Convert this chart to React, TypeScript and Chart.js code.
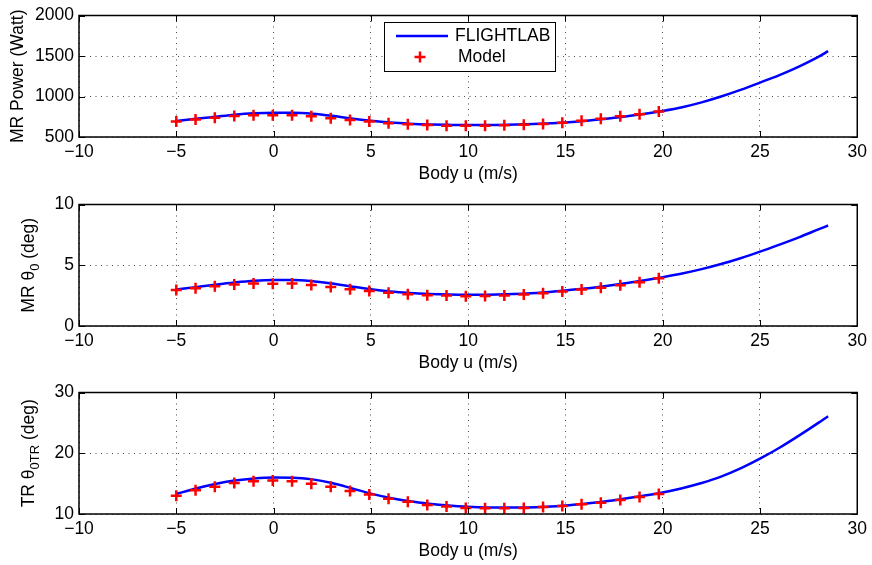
import React, { useEffect, useRef } from "react";
import { Chart, registerables } from "chart.js";

Chart.register(...registerables);

// ---------- data ----------
const flightU = [-5, -4, -3, -2, -1, 0, 1, 2, 3, 4, 5, 6, 7, 8, 9, 10, 11, 12, 13, 14, 15, 16, 17, 18, 19, 20, 21, 22, 23, 24, 25, 26, 27, 28, 28.5];
const powerFlight = [698, 725, 750, 775, 792, 800, 800, 788, 762, 728, 700, 678, 664, 655, 650, 647, 647, 650, 657, 667, 680, 698, 722, 750, 783, 822, 868, 928, 1000, 1082, 1172, 1265, 1370, 1490, 1560];
const theta0Flight = [3.0, 3.2, 3.4, 3.58, 3.72, 3.78, 3.78, 3.68, 3.5, 3.25, 3.02, 2.84, 2.72, 2.64, 2.59, 2.57, 2.58, 2.62, 2.68, 2.78, 2.92, 3.08, 3.28, 3.5, 3.75, 4.02, 4.32, 4.68, 5.1, 5.58, 6.12, 6.7, 7.3, 7.95, 8.27];
const theta0TRFlight = [13.3, 14.2, 14.95, 15.5, 15.85, 16.0, 15.98, 15.7, 15.1, 14.25, 13.35, 12.65, 12.1, 11.7, 11.4, 11.2, 11.08, 11.05, 11.08, 11.2, 11.4, 11.7, 12.05, 12.5, 13.0, 13.55, 14.25, 15.1, 16.15, 17.5, 19.1, 20.9, 22.9, 25.0, 26.1];

const modelU = [-5, -4.01, -3.02, -2.02, -1.03, -0.04, 0.95, 1.94, 2.94, 3.93, 4.92, 5.91, 6.9, 7.9, 8.89, 9.88, 10.87, 11.86, 12.86, 13.85, 14.84, 15.83, 16.82, 17.82, 18.81, 19.8];
const powerModel = [690, 715, 737, 759, 768, 768, 768, 755, 731, 711, 690, 670, 657, 647, 640, 640, 640, 645, 652, 662, 675, 700, 725, 755, 782, 816];
const theta0Model = [2.97, 3.11, 3.27, 3.41, 3.49, 3.47, 3.49, 3.38, 3.22, 3.03, 2.89, 2.73, 2.62, 2.54, 2.51, 2.45, 2.46, 2.51, 2.59, 2.7, 2.84, 3.0, 3.14, 3.35, 3.6, 3.92];
const theta0TRModel = [13.0, 13.9, 14.5, 15.1, 15.4, 15.5, 15.4, 15.0, 14.5, 13.8, 13.2, 12.5, 12.0, 11.5, 11.25, 11.0, 10.95, 10.95, 11.0, 11.15, 11.3, 11.6, 11.85, 12.3, 12.8, 13.3];

const xTicks = [-10, -5, 0, 5, 10, 15, 20, 25, 30];
const powerTicks = [500, 1000, 1500, 2000];
const theta0Ticks = [0, 5, 10];
const theta0TRTicks = [10, 20, 30];

const xTitle = "Body u (m/s)";
const legendLabels = ["FLIGHTLAB", "Model"];

// ---------- styling ----------
const FONT = "'Liberation Sans', Arial, Helvetica, sans-serif";
const FS = 17.5;
const W = 872;
const H = 189;

const fmt = (v: number) => (v < 0 ? "\u2212" + Math.abs(v) : String(v));

type Part = { t: string; sub?: boolean };

const framePlugin = {
  id: "frame",
  afterDraw(chart: any) {
    const { ctx, chartArea: a, scales } = chart;
    ctx.save();
    ctx.strokeStyle = "#000";
    ctx.lineWidth = 1;
    const tl = 6;
    ctx.beginPath();
    scales.x.ticks.forEach((t: any) => {
      const px = Math.round(scales.x.getPixelForValue(t.value)) + 0.5;
      ctx.moveTo(px, a.bottom);
      ctx.lineTo(px, a.bottom - tl);
      ctx.moveTo(px, a.top);
      ctx.lineTo(px, a.top + tl);
    });
    scales.y.ticks.forEach((t: any) => {
      const py = Math.round(scales.y.getPixelForValue(t.value)) + 0.5;
      ctx.moveTo(a.left, py);
      ctx.lineTo(a.left + tl, py);
      ctx.moveTo(a.right, py);
      ctx.lineTo(a.right - tl, py);
    });
    ctx.stroke();
    ctx.lineWidth = 1.5;
    ctx.strokeRect(a.left, a.top, a.right - a.left, a.bottom - a.top);
    ctx.restore();
  },
};

function yTitlePlugin(parts: Part[], x: number) {
  return {
    id: "ytitle",
    afterDraw(chart: any) {
      const { ctx, chartArea: a } = chart;
      const cy = (a.top + a.bottom) / 2;
      ctx.save();
      const mainFont = `${FS}px ${FONT}`;
      const subFont = `${Math.round(FS * 0.75)}px ${FONT}`;
      let total = 0;
      const widths = parts.map((p) => {
        ctx.font = p.sub ? subFont : mainFont;
        const w = ctx.measureText(p.t).width;
        total += w;
        return w;
      });
      ctx.translate(x, cy);
      ctx.rotate(-Math.PI / 2);
      ctx.fillStyle = "#000";
      ctx.textBaseline = "middle";
      ctx.textAlign = "left";
      let cx = -total / 2;
      parts.forEach((p, i) => {
        ctx.font = p.sub ? subFont : mainFont;
        ctx.fillText(p.t, cx, p.sub ? 6 : 0);
        cx += widths[i];
      });
      ctx.restore();
    },
  };
}

const legendPlugin = {
  id: "customLegend",
  afterDraw(chart: any) {
    const { ctx } = chart;
    ctx.save();
    ctx.fillStyle = "#fff";
    ctx.fillRect(384, 22, 171, 49);
    ctx.strokeStyle = "#000";
    ctx.lineWidth = 1;
    ctx.strokeRect(384.5, 22.5, 171, 49);
    ctx.strokeStyle = "#0000ff";
    ctx.lineWidth = 2.5;
    ctx.beginPath();
    ctx.moveTo(396, 36);
    ctx.lineTo(448, 36);
    ctx.stroke();
    ctx.strokeStyle = "#ff0000";
    ctx.lineWidth = 2.5;
    ctx.beginPath();
    ctx.moveTo(414.5, 57);
    ctx.lineTo(425.5, 57);
    ctx.moveTo(420, 51.5);
    ctx.lineTo(420, 62.5);
    ctx.stroke();
    ctx.fillStyle = "#000";
    ctx.font = `${FS}px ${FONT}`;
    ctx.textBaseline = "middle";
    ctx.textAlign = "left";
    ctx.fillText(legendLabels[0], 455, 36);
    ctx.fillText(legendLabels[1], 458, 57);
    ctx.restore();
  },
};

type PanelProps = {
  top: number;
  flight: number[];
  model: number[];
  yTicks: number[];
  titleParts: Part[];
  titleX: number;
  legend?: boolean;
};

function Panel({ top, flight, model, yTicks, titleParts, titleX, legend }: PanelProps) {
  const ref = useRef<HTMLCanvasElement>(null);
  useEffect(() => {
    const plugins: any[] = [framePlugin, yTitlePlugin(titleParts, titleX)];
    if (legend) plugins.push(legendPlugin);
    const chart = new Chart(ref.current!, {
      type: "line",
      data: {
        datasets: [
          {
            label: legendLabels[1],
            data: modelU.map((u, i) => ({ x: u, y: model[i] })),
            showLine: false,
            pointStyle: "cross",
            pointRadius: 5.5,
            pointBorderWidth: 2.5,
            borderColor: "#ff0000",
            backgroundColor: "#ff0000",
            pointHoverRadius: 5.5,
            order: 0,
          } as any,
          {
            label: legendLabels[0],
            data: flightU.map((u, i) => ({ x: u, y: flight[i] })),
            borderColor: "#0000ff",
            borderWidth: 2.5,
            pointRadius: 0,
            fill: false,
            cubicInterpolationMode: "monotone",
            order: 1,
          } as any,
        ],
      },
      options: {
        responsive: false,
        animation: false,
        devicePixelRatio: 1,
        events: [],
        layout: { padding: { top: 14, right: 12, left: 0, bottom: 0 } },
        plugins: { legend: { display: false }, tooltip: { enabled: false } },
        scales: {
          x: {
            type: "linear",
            min: xTicks[0],
            max: xTicks[xTicks.length - 1],
            afterBuildTicks: (s: any) => {
              s.ticks = xTicks.map((v) => ({ value: v }));
            },
            afterFit: (s: any) => {
              s.height = H - 14 - 123;
            },
            ticks: {
              color: "#000",
              font: { family: FONT, size: FS },
              padding: 5,
              maxRotation: 0,
              autoSkip: false,
              callback: (v: any) => fmt(Number(v)),
            },
            grid: { color: "rgba(0,0,0,0.7)", lineWidth: 1, drawTicks: false },
            border: { display: false, dash: [1, 4.5] },
            title: {
              display: true,
              text: xTitle,
              color: "#000",
              font: { family: FONT, size: FS },
              padding: { top: 0, bottom: 4 },
            },
          },
          y: {
            type: "linear",
            min: yTicks[0],
            max: yTicks[yTicks.length - 1],
            afterBuildTicks: (s: any) => {
              s.ticks = yTicks.map((v) => ({ value: v }));
            },
            afterFit: (s: any) => {
              s.width = 79;
            },
            ticks: {
              color: "#000",
              font: { family: FONT, size: FS },
              padding: 5,
              autoSkip: false,
              callback: (v: any) => fmt(Number(v)),
            },
            grid: { color: "rgba(0,0,0,0.7)", lineWidth: 1, drawTicks: false },
            border: { display: false, dash: [1, 4.5] },
          },
        },
      } as any,
      plugins,
    });
    return () => chart.destroy();
  }, []);
  return (
    <canvas
      ref={ref}
      width={W}
      height={H}
      style={{ position: "absolute", left: 0, top, width: W, height: H }}
    />
  );
}

export default function App() {
  return (
    <div style={{ position: "fixed", left: 0, top: 0, width: W, height: 565, background: "#fff" }}>
      <Panel
        top={0}
        flight={powerFlight}
        model={powerModel}
        yTicks={powerTicks}
        titleParts={[{ t: "MR Power (Watt)" }]}
        titleX={18}
        legend
      />
      <Panel
        top={189}
        flight={theta0Flight}
        model={theta0Model}
        yTicks={theta0Ticks}
        titleParts={[{ t: "MR \u03b8" }, { t: "0", sub: true }, { t: " (deg)" }]}
        titleX={29}
      />
      <Panel
        top={377}
        flight={theta0TRFlight}
        model={theta0TRModel}
        yTicks={theta0TRTicks}
        titleParts={[{ t: "TR \u03b8" }, { t: "0TR", sub: true }, { t: " (deg)" }]}
        titleX={29}
      />
    </div>
  );
}
